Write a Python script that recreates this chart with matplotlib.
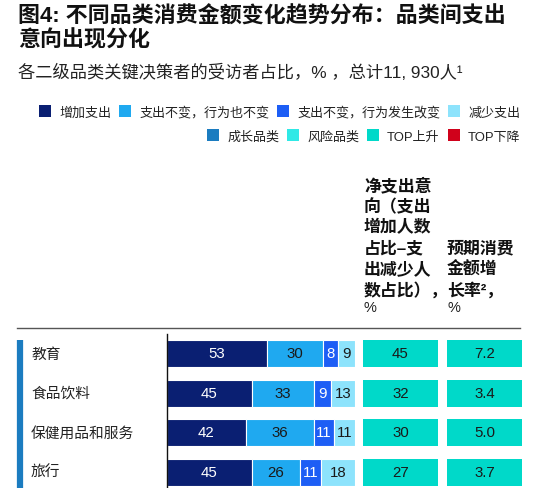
import matplotlib
matplotlib.use("Agg")
import matplotlib.pyplot as plt
from matplotlib.patches import Patch
from matplotlib.lines import Line2D
from matplotlib.transforms import blended_transform_factory
import numpy as np

plt.rcParams['font.family'] = ['Liberation Sans', 'Noto Sans CJK SC', 'DejaVu Sans']

# data
categories = ["教育", "食品饮料", "保健用品和服务", "旅行"]
increase = [53, 45, 42, 45]
same_same = [30, 33, 36, 26]
same_changed = [8, 9, 11, 11]
decrease = [9, 13, 11, 18]
net_intent = [45, 32, 30, 27]
growth_rate = ["7.2", "3.4", "5.0", "3.7"]

series_names = ["增加支出", "支出不变，行为也不变", "支出不变，行为发生改变", "减少支出"]
series_colors = ["#0a1f72", "#1fa9f0", "#1d5ef5", "#8de3fc"]
label_colors = ["white", "#1a1a1a", "white", "#1a1a1a"]
class_names = ["成长品类", "风险品类", "TOP上升", "TOP下降"]
class_colors = ["#1b7cc0", "#2fe9e6", "#00d9c9", "#d0011b"]
box_color = "#00d9c9"

W, H = 538, 489
fig = plt.figure(figsize=(W / 100, H / 100), dpi=100)

def fx(px):
    return px / W

def fy(py):
    return 1 - py / H

# title and subtitle
fig.text(fx(18), fy(17), "图4: 不同品类消费金额变化趋势分布：品类间支出", fontsize=15.8,
         fontweight="bold", va="center", ha="left", color="#111111")
fig.text(fx(18), fy(41), "意向出现分化", fontsize=15.8, fontweight="bold",
         va="center", ha="left", color="#111111")
fig.text(fx(18), fy(72.5), "各二级品类关键决策者的受访者占比，% ，总计11, 930人¹", fontsize=12.4,
         va="center", ha="left", color="#222222")

# legends
h1 = [Patch(facecolor=c, edgecolor="none") for c in series_colors]
h2 = [Patch(facecolor=c, edgecolor="none") for c in class_colors]
for handles, names, py in [(h1, series_names, 113), (h2, class_names, 137)]:
    fig.legend(handles, names, loc="center right", bbox_to_anchor=(fx(520), fy(py)),
               ncol=4, frameon=False, fontsize=9.4, handlelength=0.92, handleheight=0.92,
               handletextpad=0.6, columnspacing=0.62, borderpad=0, borderaxespad=0,
               labelcolor="#222222")

# column headers
net_header = ["净支出意", "向（支出", "增加人数", "占比–支", "出减少人", "数占比），"]
growth_header = ["预期消费", "金额增", "长率²，"]
step = 20.8
for lines, px in [(net_header, 364), (growth_header, 447)]:
    n = len(lines)
    for i, s in enumerate(lines):
        fig.text(fx(px), fy(290 - (n - 1 - i) * step), s, fontsize=12.2, fontweight="bold",
                 va="center", ha="left", color="#111111")
    fig.text(fx(px), fy(308), "%", fontsize=10.5, va="center", ha="left", color="#222222")

# separator line
fig.add_artist(Line2D([fx(17), fx(520)], [fy(329), fy(329)], color="#555555", lw=1.0))

# bar axes
pitch = 39.5
bar_h = 27 / pitch
top_px, bot_px = 335, 489
y0 = -(354.5 - top_px) / pitch
y1 = y0 + (bot_px - top_px) / pitch
ypos = np.arange(len(categories))

ax = fig.add_axes([fx(167), fy(bot_px), fx(355) - fx(167), (bot_px - top_px) / H])
left = np.zeros(len(categories))
for vals, col, tcol in zip([increase, same_same, same_changed, decrease], series_colors, label_colors):
    vals = np.array(vals, dtype=float)
    ax.barh(ypos, vals, left=left, height=bar_h, color=col, edgecolor="white", linewidth=0.8)
    for y, l, v in zip(ypos, left, vals):
        ax.text(l + v / 2, y, f"{int(v)}", ha="center", va="center", fontsize=10.8, color=tcol)
    left += vals
ax.set_xlim(0, 100)
ax.set_ylim(y1, y0)
ax.set_xticks([])
ax.set_yticks([])
for sp in ["top", "right", "bottom"]:
    ax.spines[sp].set_visible(False)
ax.spines["left"].set_linewidth(1.0)
ax.spines["left"].set_color("#111111")

# row labels and category marker
tr = blended_transform_factory(fig.transFigure, ax.transData)
for y, name in zip(ypos, categories):
    ax.text(fx(31), y, name, transform=tr, ha="left", va="center", fontsize=10.6,
            color="#222222", clip_on=False)
ax.add_artist(Line2D([fx(20), fx(20)], [ypos[0] - bar_h / 2, y1], transform=tr,
                     color=class_colors[0], lw=4.5, solid_capstyle="butt", clip_on=False))

# net intent and growth boxes
for vals, x_l, x_r in [(net_intent, 363, 438), (growth_rate, 447, 522)]:
    bx = fig.add_axes([fx(x_l), fy(bot_px), fx(x_r) - fx(x_l), (bot_px - top_px) / H])
    bx.barh(ypos, 1, left=0, height=bar_h, color=box_color, edgecolor="none")
    for y, v in zip(ypos, vals):
        bx.text(0.5, y, str(v), ha="center", va="center", fontsize=10.8, color="#1a1a1a")
    bx.set_xlim(0, 1)
    bx.set_ylim(y1, y0)
    bx.axis("off")

fig.savefig("out.png", dpi=100)
